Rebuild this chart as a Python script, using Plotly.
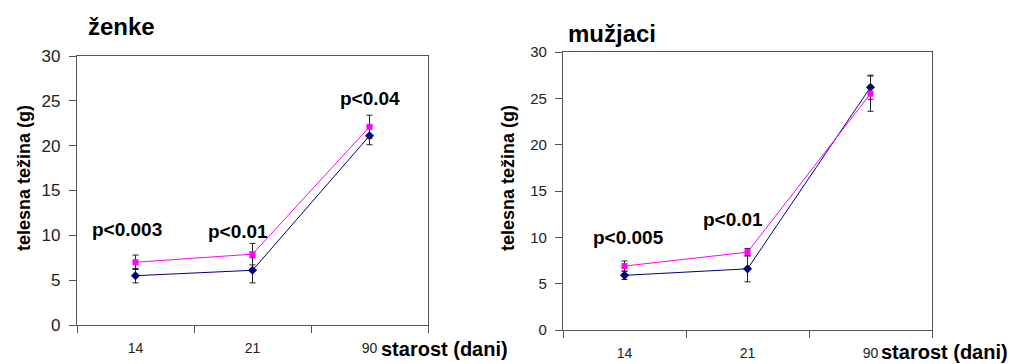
import plotly.graph_objects as go

categories = ["14", "21", "90"]

# ženke (females)
f_blue = [5.5, 6.1, 21.1]
f_blue_err = [0.8, 1.4, 1.0]
f_pink = [7.0, 7.9, 22.1]
f_pink_err = [0.8, 1.2, 1.3]
f_pvals = ["p<0.003", "p<0.01", "p<0.04"]
f_p_x = [-0.07, 0.88, 2.0]
f_p_y = [10.6, 10.4, 25.3]

# mužjaci (males)
m_blue = [5.9, 6.6, 26.2]
m_blue_err = [0.45, 1.4, 1.3]
m_pink = [6.9, 8.4, 25.5]
m_pink_err = [0.55, 0.4, 1.9]
m_pvals = ["p<0.005", "p<0.01"]
m_p_x = [0.03, 0.885]
m_p_y = [10.0, 11.95]

y_ticks = [0, 5, 10, 15, 20, 25, 30]

W, H = 1011, 364
BLUE = "#000080"
PINK = "#FF00FF"
ERR = "#222222"
AXC = "#555555"
FONT = "Liberation Sans, Arial, sans-serif"

fig = go.Figure()

def add_series(xa, ya, blue, blue_err, pink, pink_err):
    fig.add_trace(go.Scatter(
        x=categories, y=blue, xaxis=xa, yaxis=ya, mode="lines+markers",
        line=dict(color=BLUE, width=1),
        marker=dict(symbol="diamond", size=7, color=BLUE),
        error_y=dict(type="data", array=blue_err, visible=True, color=ERR, thickness=1, width=3),
        showlegend=False, hoverinfo="skip"))
    fig.add_trace(go.Scatter(
        x=categories, y=pink, xaxis=xa, yaxis=ya, mode="lines+markers",
        line=dict(color=PINK, width=1),
        marker=dict(symbol="square", size=6, color=PINK),
        error_y=dict(type="data", array=pink_err, visible=True, color=ERR, thickness=1, width=3),
        showlegend=False, hoverinfo="skip"))

add_series("x", "y", f_blue, f_blue_err, f_pink, f_pink_err)
add_series("x2", "y2", m_blue, m_blue_err, m_pink, m_pink_err)

def px(v):
    return v / W

def py(v):
    return 1 - v / H

xcommon = dict(type="category", range=[-0.5, 2.5], tickson="boundaries", ticks="outside",
               ticklen=7, tickcolor=AXC, showline=True, linecolor=AXC, linewidth=1.3,
               mirror=True, showgrid=False, zeroline=False, automargin=False,
               tickfont=dict(family=FONT, size=14, color="#222222"), ticklabelstandoff=10,
               fixedrange=True)
ycommon = dict(range=[0, 30], tickvals=y_ticks, ticks="outside", ticklen=7, tickcolor=AXC,
               showline=True, linecolor=AXC, linewidth=1.3, mirror=True, showgrid=False,
               zeroline=False, fixedrange=True, ticklabelstandoff=5, automargin=False)

fig.update_layout(
    width=W, height=H, margin=dict(l=0, r=0, t=0, b=0, pad=0, autoexpand=False),
    paper_bgcolor="white", plot_bgcolor="white",
    xaxis=dict(domain=[px(77), px(428)], anchor="y", **xcommon),
    yaxis=dict(domain=[py(325), py(56)], anchor="x",
               tickfont=dict(family=FONT, size=17, color="#222222"), **ycommon),
    xaxis2=dict(domain=[px(563), px(932)], anchor="y2", **xcommon),
    yaxis2=dict(domain=[py(330), py(52)], anchor="x2",
                tickfont=dict(family=FONT, size=15, color="#222222"), **ycommon),
)

bold = lambda s: dict(family=FONT, size=s, color="black")

for t, x, y in zip(f_pvals, f_p_x, f_p_y):
    fig.add_annotation(text="<b>" + t + "</b>", x=x, y=y, xref="x", yref="y",
                       showarrow=False, font=bold(19))
for t, x, y in zip(m_pvals, m_p_x, m_p_y):
    fig.add_annotation(text="<b>" + t + "</b>", x=x, y=y, xref="x2", yref="y2",
                       showarrow=False, font=bold(19))

# titles
fig.add_annotation(text="<b>ženke</b>", x=px(86), y=py(27), xref="paper", yref="paper",
                   xanchor="left", yanchor="middle", showarrow=False, font=bold(24))
fig.add_annotation(text="<b>mužjaci</b>", x=px(566), y=py(33), xref="paper", yref="paper",
                   xanchor="left", yanchor="middle", showarrow=False, font=bold(24))

# axis titles
for xpos, ypos in [(24, 178), (508, 178)]:
    fig.add_annotation(text="<b>telesna težina (g)</b>", x=px(xpos), y=py(ypos),
                       xref="paper", yref="paper", textangle=-90, showarrow=False,
                       xanchor="center", yanchor="middle", font=bold(18))
for xpos, ypos in [(379, 349), (879, 352)]:
    fig.add_annotation(text="<b>starost (dani)</b>", x=px(xpos), y=py(ypos),
                       xref="paper", yref="paper", xanchor="left", yanchor="middle",
                       showarrow=False, font=bold(20))

fig.write_html("out.html")
